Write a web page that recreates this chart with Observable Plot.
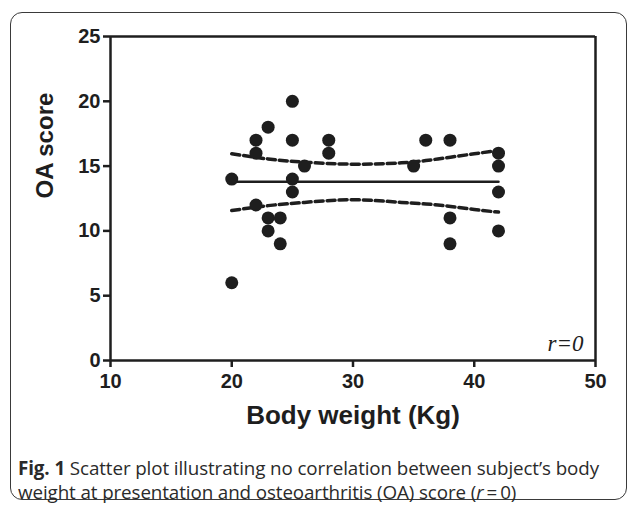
<!DOCTYPE html>
<html>
<head>
<meta charset="utf-8">
<script src="https://cdn.jsdelivr.net/npm/d3@7"></script>
<script src="https://cdn.jsdelivr.net/npm/@observablehq/plot@0.6"></script>
<style>
  html, body { margin: 0; padding: 0; background: #fff; width: 630px; height: 508px; overflow: hidden; }
  #frame { position: absolute; left: 10px; top: 12px; width: 617px; height: 488px; border: 1.5px solid #3a3a3a; border-radius: 12px; box-sizing: border-box; }
  #chart { position: absolute; left: 0; top: 0; }
  #caption { position: absolute; left: 18px; top: 456px; font-family: "Open Sans", "Noto Sans", sans-serif; font-size: 18.8px; line-height: 24px; color: #2a2a2a; white-space: nowrap; letter-spacing: -0.1px; }
  #caption b { font-weight: 700; }
</style>
</head>
<body>
<div id="frame"></div>
<div id="chart"></div>
<div id="caption"><b>Fig. 1</b> Scatter plot illustrating no correlation between subject’s body<br>weight at presentation and osteoarthritis (OA) score (<i>r</i>&#8201;=&#8201;0)</div>
<script>
// Data
const weights = [20, 20, 22, 22, 22, 23, 23, 23, 24, 24, 25, 25, 25, 25, 26, 28, 28, 35, 36, 38, 38, 38, 42, 42, 42, 42];
const scores  = [14,  6, 17, 16, 12, 18, 11, 10, 11,  9, 20, 17, 14, 13, 15, 17, 16, 15, 17, 17, 11,  9, 16, 15, 13, 10];
// regression line (flat, r = 0)
const fitX = [20, 42];
const fitY = [13.8, 13.8];
// 95% confidence band
const bandX     = [20, 23, 26, 30, 34, 37, 40, 42];
const bandUpper = [15.95, 15.55, 15.3, 15.15, 15.25, 15.55, 15.95, 16.2];
const bandLower = [11.57, 11.95, 12.2, 12.4, 12.2, 12.0, 11.65, 11.45];
// ticks
const xTicks = [10, 20, 30, 40, 50];
const yTicks = [0, 5, 10, 15, 20, 25];

const points = weights.map((w, i) => ({x: w, y: scores[i]}));
const fit = fitX.map((x, i) => ({x, y: fitY[i]}));
const upper = bandX.map((x, i) => ({x, y: bandUpper[i]}));
const lower = bandX.map((x, i) => ({x, y: bandLower[i]}));

const ink = "#1e1e1e";
const plot = Plot.plot({
  width: 630,
  height: 440,
  marginLeft: 110,
  marginRight: 35,
  marginTop: 36,
  marginBottom: 80,
  style: { fontFamily: "Liberation Sans, Arial, sans-serif", color: ink, background: "transparent" },
  x: { domain: [10, 50] },
  y: { domain: [0, 25] },
  marks: [
    Plot.axisY({ ticks: yTicks, tickSize: 7, tickPadding: 3, strokeWidth: 2.5, fontSize: 20, fontWeight: "bold", label: null }),
    Plot.axisX({ ticks: xTicks, tickSize: 7, tickPadding: 6, strokeWidth: 2.5, fontSize: 20, fontWeight: "bold", label: null }),
    Plot.ruleX([10], { stroke: ink, strokeWidth: 2.5 }),
    Plot.ruleX([50], { stroke: ink, strokeWidth: 2.5 }),
    Plot.ruleY([0], { stroke: ink, strokeWidth: 2.5 }),
    Plot.ruleY([25], { stroke: ink, strokeWidth: 2.5 }),
    Plot.line(upper, { x: "x", y: "y", curve: "natural", stroke: ink, strokeWidth: 3.5, strokeDasharray: "8,4", strokeLinecap: "round" }),
    Plot.line(lower, { x: "x", y: "y", curve: "natural", stroke: ink, strokeWidth: 3.5, strokeDasharray: "8,4", strokeLinecap: "round" }),
    Plot.line(fit, { x: "x", y: "y", stroke: ink, strokeWidth: 2.5 }),
    Plot.dot(points, { x: "x", y: "y", r: 6.5, fill: ink, stroke: "none" }),
    Plot.text(["r=0"], { frameAnchor: "bottom-right", dx: -12, dy: -10, text: d => d, fontFamily: "Liberation Serif, Times New Roman, serif", fontStyle: "italic", fontSize: 23, fill: ink, textAnchor: "end", lineAnchor: "bottom" }),
    Plot.text(["OA score"], { frameAnchor: "left", dx: -65, rotate: -90, text: d => d, fontSize: 24, fontWeight: "bold", fill: ink }),
    Plot.text(["Body weight (Kg)"], { frameAnchor: "bottom", dy: 63, text: d => d, fontSize: 26, fontWeight: "bold", fill: ink })
  ]
});
plot.querySelectorAll("text").forEach(t => t.setAttribute("fill", ink));
document.getElementById("chart").appendChild(plot);
</script>
</body>
</html>
